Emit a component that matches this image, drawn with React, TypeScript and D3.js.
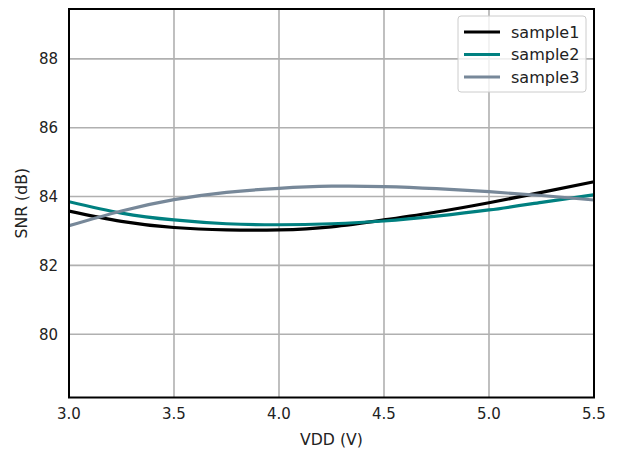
import React from "react";
import * as d3 from "d3";

const vdd = [3.0, 3.25, 3.5, 3.75, 4.0, 4.25, 4.5, 4.75, 5.0, 5.25, 5.5];
const sample1 = [83.58, 83.28, 83.1, 83.03, 83.03, 83.12, 83.32, 83.55, 83.82, 84.12, 84.43];
const sample2 = [83.85, 83.52, 83.32, 83.21, 83.18, 83.21, 83.29, 83.43, 83.61, 83.83, 84.05];
const sample3 = [83.15, 83.58, 83.91, 84.12, 84.24, 84.3, 84.29, 84.23, 84.14, 84.03, 83.9];
const seriesNames = ["sample1", "sample2", "sample3"];
const seriesColors = ["#000000", "#008080", "#778899"];
const xTicks = [3.0, 3.5, 4.0, 4.5, 5.0, 5.5];
const yTicks = [80, 82, 84, 86, 88];

export default function App() {
  const W = 619, H = 451;
  const left = 69, right = 594, top = 9, bottom = 397.5;
  const x = d3.scaleLinear().domain([3.0, 5.5]).range([left, right]);
  const y = d3.scaleLinear().domain([78.16, 89.45]).range([bottom, top]);
  const all = [sample1, sample2, sample3];
  const line = d3
    .line<number>()
    .x((_, i) => x(vdd[i]))
    .y((d) => y(d))
    .curve(d3.curveNatural);
  const font = "DejaVu Sans, sans-serif";
  return (
    <svg width={W} height={H} style={{ position: "absolute", left: 0, top: 0, background: "#fff" }}>
      <defs>
        <clipPath id="plot">
          <rect x={left} y={top} width={right - left} height={bottom - top} />
        </clipPath>
      </defs>
      {xTicks.map((t) => (
        <line key={"gx" + t} x1={x(t)} x2={x(t)} y1={top} y2={bottom} stroke="#b0b0b0" strokeWidth={1.6} />
      ))}
      {yTicks.map((t) => (
        <line key={"gy" + t} x1={left} x2={right} y1={y(t)} y2={y(t)} stroke="#b0b0b0" strokeWidth={1.6} />
      ))}
      <g clipPath="url(#plot)">
        {all.map((s, i) => (
          <path key={i} d={line(s) || ""} fill="none" stroke={seriesColors[i]} strokeWidth={3.2} />
        ))}
      </g>
      <rect x={left} y={top} width={right - left} height={bottom - top} fill="none" stroke="#000" strokeWidth={2} />
      {xTicks.map((t) => (
        <text key={"tx" + t} x={x(t)} y={bottom + 21} textAnchor="middle" fontFamily={font} fontSize={15} fill="#222">
          {t.toFixed(1)}
        </text>
      ))}
      {yTicks.map((t) => (
        <text key={"ty" + t} x={left - 11} y={y(t) + 5.5} textAnchor="end" fontFamily={font} fontSize={15} fill="#222">
          {t}
        </text>
      ))}
      <text x={(left + right) / 2} y={444.5} textAnchor="middle" fontFamily={font} fontSize={15.7} fill="#222">
        VDD (V)
      </text>
      <text
        transform={`translate(26.5,${(top + bottom) / 2}) rotate(-90)`}
        textAnchor="middle"
        fontFamily={font}
        fontSize={15.7}
        fill="#222"
      >
        SNR (dB)
      </text>
      <g>
        <rect x={458} y={16} width={128} height={76} rx={3} fill="#fff" fillOpacity={0.8} stroke="#cccccc" strokeWidth={1} />
        {seriesNames.map((n, i) => (
          <g key={n}>
            <line x1={464} x2={500} y1={32 + i * 22.5} y2={32 + i * 22.5} stroke={seriesColors[i]} strokeWidth={3.2} />
            <text x={511} y={32 + i * 22.5 + 5.5} fontFamily={font} fontSize={16} fill="#222">
              {n}
            </text>
          </g>
        ))}
      </g>
    </svg>
  );
}
